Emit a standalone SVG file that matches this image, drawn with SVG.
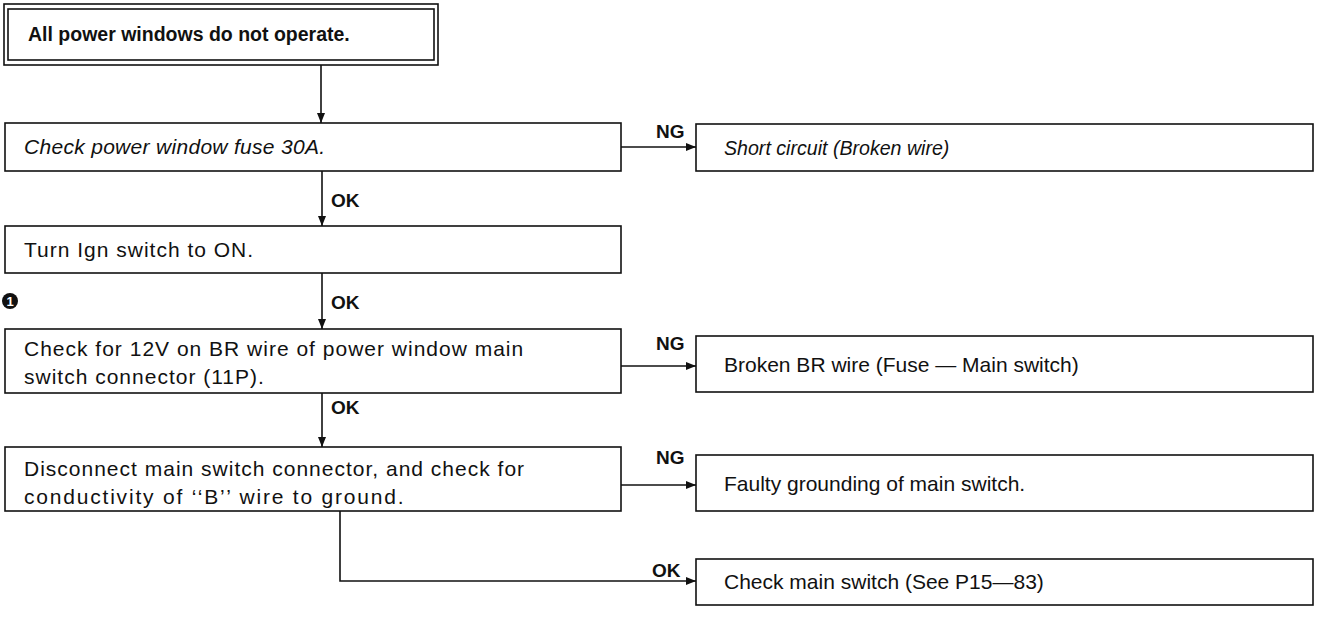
<svg xmlns="http://www.w3.org/2000/svg" width="1320" height="636" viewBox="0 0 1320 636">
  <defs>
    <marker id="arr" viewBox="0 0 10 8" refX="10" refY="4" markerWidth="10" markerHeight="8" markerUnits="userSpaceOnUse" orient="auto">
      <path d="M0,0 L10,4 L0,8 Z" fill="#111"/>
    </marker>
    <style>
      .box { fill: #fff; stroke: #111; stroke-width: 1.6; }
      .t { font-family: "Liberation Sans", Arial, sans-serif; font-size: 21px; fill: #111; }
      .ls { letter-spacing: 1px; }
      .i { font-style: italic; }
      .lbl { font-family: "Liberation Sans", Arial, sans-serif; font-size: 19px; font-weight: bold; fill: #111; }
      .title { font-family: "Liberation Sans", Arial, sans-serif; font-size: 19.5px; font-weight: bold; fill: #111; }
      .con { fill: none; stroke: #111; stroke-width: 1.6; marker-end: url(#arr); }
    </style>
  </defs>
  <rect width="1320" height="636" fill="#fff"/>

  <g id="start">
    <rect x="4" y="4" width="434" height="61" fill="#fff" stroke="#111" stroke-width="1.6"/>
    <rect x="8" y="9" width="426" height="51" fill="none" stroke="#111" stroke-width="1.6"/>
    <text class="title" x="28" y="41">All power windows do not operate.</text>
  </g>

  <g id="check-fuse">
    <rect class="box" x="5" y="123" width="616" height="48"/>
    <text class="t i" x="24" y="154" letter-spacing="0.3">Check power window fuse 30A.</text>
  </g>

  <g id="short-circuit">
    <rect class="box" x="696" y="124" width="617" height="47"/>
    <text class="t i" x="724" y="155" style="font-size:19.6px">Short circuit (Broken wire)</text>
  </g>

  <g id="ign-on">
    <rect class="box" x="5" y="226" width="616" height="47"/>
    <text class="t ls" x="24" y="257">Turn Ign switch to ON.</text>
  </g>

  <g id="marker-1">
    <circle cx="10" cy="301" r="8" fill="#111"/>
    <text x="10" y="306" text-anchor="middle" font-family="Liberation Sans, Arial, sans-serif" font-size="13" font-weight="bold" fill="#fff">1</text>
  </g>

  <g id="check-12v">
    <rect class="box" x="5" y="329" width="616" height="64"/>
    <text class="t ls" x="24" y="356">Check for 12V on BR wire of power window main</text>
    <text class="t ls" x="24" y="384">switch connector (11P).</text>
  </g>

  <g id="broken-br">
    <rect class="box" x="696" y="336" width="617" height="56"/>
    <text class="t" x="724" y="372">Broken BR wire (Fuse — Main switch)</text>
  </g>

  <g id="check-ground">
    <rect class="box" x="5" y="447" width="616" height="64"/>
    <text class="t ls" x="24" y="476">Disconnect main switch connector, and check for</text>
    <text class="t" x="24" y="504" letter-spacing="1.8">conductivity of ‘‘B’’ wire to ground.</text>
  </g>

  <g id="faulty-ground">
    <rect class="box" x="696" y="455" width="617" height="56"/>
    <text class="t" x="724" y="491">Faulty grounding of main switch.</text>
  </g>

  <g id="check-main">
    <rect class="box" x="696" y="559" width="617" height="46"/>
    <text class="t" x="724" y="589">Check main switch (See P15—83)</text>
  </g>

  <g id="connectors">
    <path class="con" d="M321,65 V123"/>
    <path class="con" d="M322,171 V226"/>
    <path class="con" d="M322,273 V329"/>
    <path class="con" d="M322,393 V447"/>
    <path class="con" d="M621,147 H696"/>
    <path class="con" d="M621,366 H696"/>
    <path class="con" d="M621,485 H696"/>
    <path class="con" d="M340,511 V581 H696"/>
    <text class="lbl" x="656" y="138">NG</text>
    <text class="lbl" x="331" y="207">OK</text>
    <text class="lbl" x="331" y="309">OK</text>
    <text class="lbl" x="331" y="414">OK</text>
    <text class="lbl" x="656" y="350">NG</text>
    <text class="lbl" x="656" y="464">NG</text>
    <text class="lbl" x="652" y="577">OK</text>
  </g>
</svg>
